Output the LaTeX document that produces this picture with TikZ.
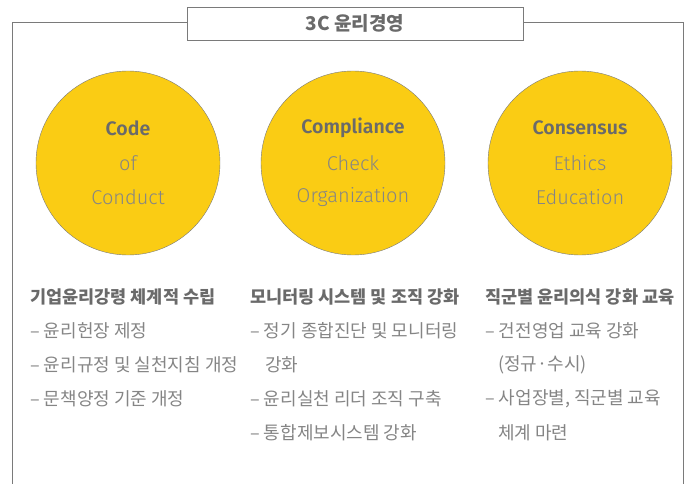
\documentclass[tikz,border=0pt]{standalone}
\usepackage{fontspec}
\setmainfont{Noto Sans CJK KR}
\newfontfamily\latinfont{Fira Sans Light}
\newfontfamily\latinbold{Fira Sans SemiBold}
\definecolor{ethicyellow}{HTML}{FACC14}
\definecolor{framegray}{HTML}{7A7A7A}
\definecolor{textgray}{HTML}{6A6A6A}
\definecolor{lightgray}{HTML}{858585}

\begin{document}
\begin{tikzpicture}[x=1pt,y=-1pt]
        \tikzset{pillar/.style={circle,draw=framegray,fill=ethicyellow,minimum size=184pt,inner sep=0pt},
          boldword/.style={text=textgray,font=\latinbold\fontsize{19.5}{19.5}\selectfont},
          thinword/.style={text=lightgray,font=\latinfont\fontsize{20}{20}\selectfont},
          head/.style={anchor=west,inner sep=0pt,text=textgray,font=\bfseries\fontsize{17.5}{17.5}\selectfont},
          item/.style={anchor=west,inner sep=0pt,text=lightgray,font=\fontsize{18}{18}\selectfont},
          titlebox/.style={draw=framegray,fill=white,minimum width=336pt,minimum height=33pt,
            text=textgray,font=\bfseries\fontsize{19}{19}\selectfont}}
        \useasboundingbox (0,0) rectangle (693,484);
        % frame
        \node[titlebox] (title) at (355,23.5) {3C 윤리경영};
        \draw[framegray] (title.west |- 0,22) -- (12,22) -- (12,484);
        \draw[framegray] (title.east |- 0,22) -- (683,22) -- (683,484);
        % circles
        \node[pillar] (code) at (128,163) {};
        \node[pillar] (comp) at (353,163) {};
        \node[pillar] (cons) at (580,163) {};
        \node[boldword] at (128,128) {Code};
        \node[thinword] at (128,163) {of};
        \node[thinword] at (128,197) {Conduct};
        \node[boldword] at (353,128) {Compliance};
        \node[thinword] at (353,163) {Check};
        \node[thinword] at (353,197) {Organization};
        \node[boldword] at (580,128) {Consensus};
        \node[thinword] at (580,163) {Ethics};
        \node[thinword] at (580,197) {Education};
        % lists
        \node[head] (h1) at (30,297) {기업윤리강령 체계적 수립};
        \node[item] at (30,331) {– 윤리헌장 제정};
        \node[item] at (30,365) {– 윤리규정 및 실천지침 개정};
        \node[item] at (30,399) {– 문책양정 기준 개정};
        \node[head] (h2) at (250,297) {모니터링 시스템 및 조직 강화};
        \node[item] at (250,331) {– 정기 종합진단 및 모니터링};
        \node[item] at (265,365) {강화};
        \node[item] at (250,399) {– 윤리실천 리더 조직 구축};
        \node[item] at (250,433) {– 통합제보시스템 강화};
        \node[head] (h3) at (485,297) {직군별 윤리의식 강화 교육};
        \node[item] at (485,331) {– 건전영업 교육 강화};
        \node[item] at (498,365) {(정규·수시)};
        \node[item] at (485,399) {– 사업장별, 직군별 교육};
        \node[item] at (498,433) {체계 마련};
      \end{tikzpicture}
\end{document}
